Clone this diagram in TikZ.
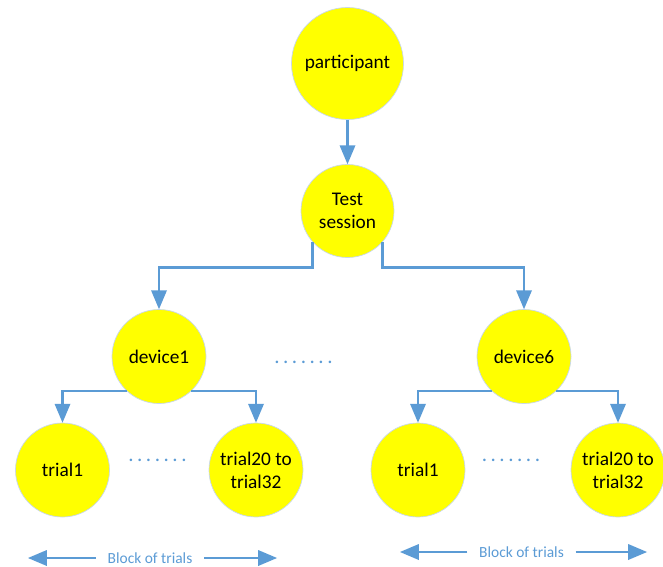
\documentclass[tikz,border=0pt]{standalone}
\usepackage{fontspec}
\setmainfont{Carlito}
\usetikzlibrary{calc}
\usetikzlibrary{arrows}
\usepackage{xcolor}
\definecolor{linkblue}{RGB}{91,155,213}
\definecolor{ballyellow}{RGB}{255,255,0}
\definecolor{ballrim}{RGB}{200,215,235}
\newcommand{\trialdots}{.\,.\,.\,.\,.\,.\,.}

\tikzset{
  ball/.style={circle,fill=ballyellow,draw=ballrim,line width=.4pt,minimum size=1.88cm,inner sep=0pt,align=center,font=\fontsize{11}{13}\selectfont},
  link/.style={linkblue,line width=1.5pt,->,>=triangle 45},
  gapdots/.style={text=linkblue,font=\fontsize{12}{13}\selectfont},
  blocklabel/.style={text=linkblue,inner xsep=6.5pt,font=\fontsize{8.8}{10}\selectfont},
}

\begin{document}
\begin{tikzpicture}
\useasboundingbox (0,0) rectangle (13.26,-11.32);
% top of the tree
\node[ball,minimum size=2.24cm] (part) at (6.95,-1.27) {participant};
\node[ball,minimum size=1.86cm] (sess) at (6.95,-4.22) {Test\\session};
\draw[link] (part) -- (sess);
% devices
\node[ball] (dev1) at (3.18,-7.13) {device1};
\node[ball] (dev6) at (10.48,-7.13) {device6};
\node[gapdots] (devgap) at (6.07,-7.25) {\trialdots};
\draw[link] (sess.-138) -- ++(0,-.5) -| (dev1.north);
\draw[link] (sess.-42) -- ++(0,-.5) -| (dev6.north);
% trials
\node[ball] (trialA) at (1.25,-9.40) {trial1};
\node[ball] (lastA) at (5.12,-9.40) {trial20 to\\trial32};
\node[gapdots] (gapA) at (3.15,-9.21) {\trialdots};
\node[ball] (trialB) at (8.36,-9.40) {trial1};
\node[ball] (lastB) at (12.36,-9.40) {trial20 to\\trial32};
\node[gapdots] (gapB) at (10.22,-9.21) {\trialdots};
\draw[link] (dev1.-133) -| (trialA.north);
\draw[link] (dev1.-47) -| (lastA.north);
\draw[link] (dev6.-133) -| (trialB.north);
\draw[link] (dev6.-47) -| (lastB.north);
% block of trials
\node[blocklabel] (blockA) at (3.0,-11.16) {Block of trials};
\coordinate (blockAl) at (.56,-11.16);
\coordinate (blockAr) at (5.54,-11.16);
\draw[link] (blockA.west) -- (blockAl);
\draw[link] (blockA.east) -- (blockAr);
\node[blocklabel] (blockB) at (10.43,-11.04) {Block of trials};
\coordinate (blockBl) at (8.0,-11.04);
\coordinate (blockBr) at (12.94,-11.04);
\draw[link] (blockB.west) -- (blockBl);
\draw[link] (blockB.east) -- (blockBr);
\end{tikzpicture}
\end{document}
